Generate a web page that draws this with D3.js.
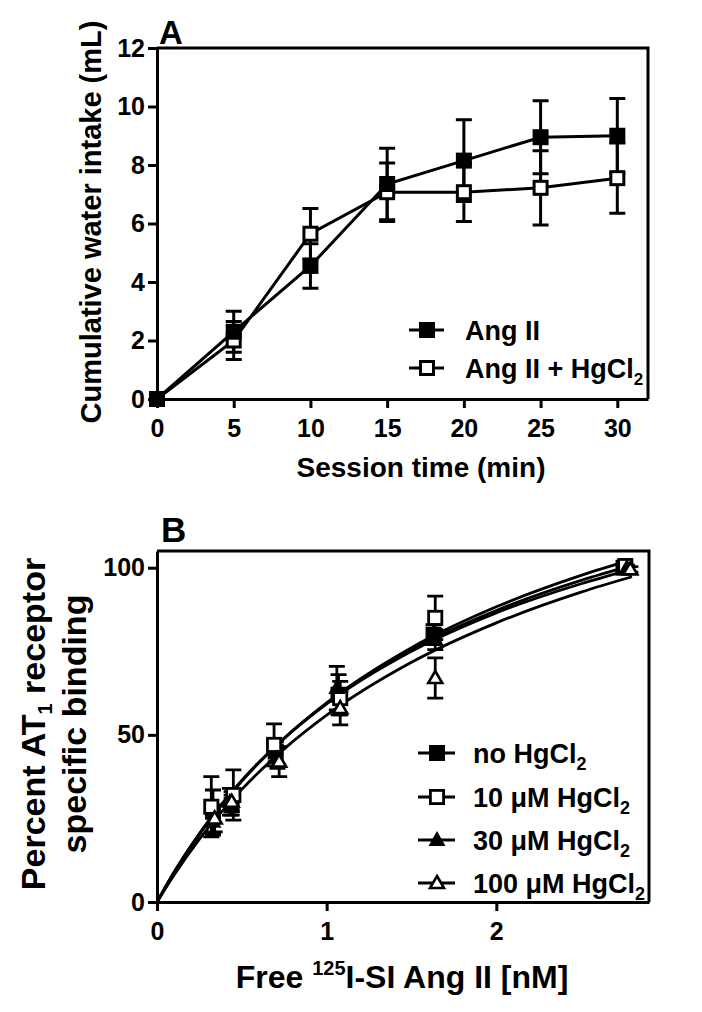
<!DOCTYPE html>
<html><head><meta charset="utf-8">
<script src="https://cdn.jsdelivr.net/npm/d3@7"></script>
<style>
body{margin:0;background:#fff}
svg{display:block}
text{font-family:"Liberation Sans",Arial,sans-serif;font-weight:bold;fill:#000}
</style>
</head><body>
<svg id="c" width="702" height="1012"></svg>
<script>
// ---------- Panel A data ----------
const timeMin = [0, 5, 10, 15, 20, 25, 30];
const angII = [0, 2.3, 4.55, 7.35, 8.15, 8.95, 9.0];
const angIIErr = [0, 0.7, 0.76, 1.22, 1.4, 1.25, 1.27];
const angIIHg = [0, 2.0, 5.65, 7.07, 7.07, 7.22, 7.55];
const angIIHgErr = [0, 0.65, 0.86, 1.0, 1.0, 1.27, 1.2];
const aXTicks = [0, 5, 10, 15, 20, 25, 30];
const aYTicks = [0, 2, 4, 6, 8, 10, 12];
const aLegend = ["Ang II", "Ang II + HgCl"];

// ---------- Panel B data ----------
const bLegend = ["no HgCl", "10 \u03BCM HgCl", "30 \u03BCM HgCl", "100 \u03BCM HgCl"];
const freeNo   = [0.33, 0.44, 0.70, 1.07, 1.63, 2.75];
const bindNo   = [27, 29, 45, 62, 80, 100];
const errNo    = [6.5, 3, 3, 6, 3, 0.8];
const free10   = [0.32, 0.45, 0.69, 1.08, 1.64, 2.76];
const bind10   = [28.5, 32, 47, 61, 85, 100.5];
const err10    = [9, 7.5, 6.3, 5, 6.5, 0.8];
const free30   = [0.33, 0.43, 0.71, 1.06, 1.64, 2.77];
const bind30   = [24, 30, 43, 64, 78.5, 100];
const err30    = [4, 4, 3, 6.5, 3, 0.8];
const free100  = [0.34, 0.44, 0.72, 1.08, 1.64, 2.79];
const bind100  = [25, 30, 42, 58, 67, 99.5];
const err100   = [4, 3, 4.5, 5, 6, 0.8];
// fitted saturation curves
const curveX     = [0, 0.1, 0.25, 0.5, 0.75, 1.0, 1.5, 2.0, 2.5, 2.8];
const curveNo    = [0, 8.8, 20.4, 36.3, 49.0, 59.4, 75.5, 87.2, 96.2, 100.7];
const curve10    = [0, 8.7, 20.2, 36.2, 49.0, 59.6, 76.1, 88.3, 97.7, 102.4];
const curve30    = [0, 8.9, 20.5, 36.4, 49.0, 59.3, 75.0, 86.5, 95.2, 99.6];
const curve100   = [0, 8.0, 18.8, 33.7, 45.8, 55.9, 71.7, 83.5, 92.7, 97.3];
const bXTicks = [0, 1, 2];
const bYTicks = [0, 50, 100];

const svg = d3.select("#c");
const FONT = '"Liberation Sans",Arial,sans-serif';

function styleAxis(g, fs) {
  g.attr("font-family", FONT).attr("font-size", fs).attr("font-weight", "bold");
  g.select(".domain").attr("stroke-width", 3).attr("stroke", "#000");
  g.selectAll(".tick line").attr("stroke-width", 3).attr("stroke", "#000");
  g.selectAll(".tick text").attr("fill", "#000");
}

// ================= Panel A =================
const xA = d3.scaleLinear().domain([0, 32]).range([157, 648]);
const yA = d3.scaleLinear().domain([0, 12]).range([399, 48]);

const gAx = svg.append("g").attr("transform", "translate(0,399)")
  .call(d3.axisBottom(xA).tickValues(aXTicks).tickSize(9).tickSizeOuter(0).tickPadding(11));
styleAxis(gAx, 25);
const gAy = svg.append("g").attr("transform", "translate(157,0)")
  .call(d3.axisLeft(yA).tickValues(aYTicks).tickSize(9).tickSizeOuter(0).tickPadding(3));
styleAxis(gAy, 25);
svg.append("path").attr("d", `M${xA(0)},${yA(12)}H${xA(32)}V${yA(0)}`)
  .attr("fill", "none").attr("stroke", "#000").attr("stroke-width", 3);

svg.append("text").attr("x", 159).attr("y", 44).attr("font-size", 33).text("A");
svg.append("text").attr("x", 421).attr("y", 477).attr("text-anchor", "middle")
  .attr("font-size", 28).text("Session time (min)");
svg.append("text").attr("transform", "translate(101,222) rotate(-90)")
  .attr("text-anchor", "middle").attr("font-size", 29).text("Cumulative water intake (mL)");

const seriesA = [
  {y: angIIHg, e: angIIHgErr, fill: "#fff"},
  {y: angII, e: angIIErr, fill: "#000"}
];
const lineA = d3.line();
seriesA.forEach(s => {
  svg.append("path")
    .attr("d", lineA(timeMin.map((t, i) => [xA(t), yA(s.y[i])])))
    .attr("fill", "none").attr("stroke", "#000").attr("stroke-width", 3);
});
seriesA.forEach(s => {
  timeMin.forEach((t, i) => {
    if (!s.e[i]) return;
    const cx = xA(t), y1 = yA(s.y[i] + s.e[i]), y2 = yA(s.y[i] - s.e[i]);
    svg.append("path").attr("d", `M${cx},${y1}V${y2}M${cx-8},${y1}H${cx+8}M${cx-8},${y2}H${cx+8}`)
      .attr("stroke", "#000").attr("stroke-width", 3).attr("fill", "none");
  });
});
function squareA(cx, cy, fill) {
  if (fill === "#000") {
    svg.append("rect").attr("x", cx - 8).attr("y", cy - 8).attr("width", 16).attr("height", 16).attr("fill", "#000");
  } else {
    svg.append("rect").attr("x", cx - 6.5).attr("y", cy - 6.5).attr("width", 13).attr("height", 13)
      .attr("fill", "#fff").attr("stroke", "#000").attr("stroke-width", 3);
  }
}
seriesA.forEach(s => {
  timeMin.forEach((t, i) => squareA(xA(t), yA(s.y[i]), s.fill));
});
// legend A
[{fill: "#000", cy: 330}, {fill: "#fff", cy: 368}].forEach((d, i) => {
  svg.append("line").attr("x1", 409).attr("x2", 444).attr("y1", d.cy).attr("y2", d.cy)
    .attr("stroke", "#000").attr("stroke-width", 3);
  squareA(427, d.cy, d.fill);
  const t = svg.append("text").attr("x", 465).attr("y", d.cy + 10).attr("font-size", 27).text(aLegend[i]);
  if (i === 1) t.append("tspan").attr("font-size", 17).attr("dy", 7).text("2");
});

// ================= Panel B =================
const xB = d3.scaleLinear().domain([0, 2.9]).range([157, 649]);
const yB = d3.scaleLinear().domain([0, 105]).range([902, 551]);

const gBx = svg.append("g").attr("transform", "translate(0,902)")
  .call(d3.axisBottom(xB).tickValues(bXTicks).tickFormat(d3.format("d")).tickSize(9).tickSizeOuter(0).tickPadding(11));
styleAxis(gBx, 25);
const gBy = svg.append("g").attr("transform", "translate(157,0)")
  .call(d3.axisLeft(yB).tickValues(bYTicks).tickFormat(d3.format("d")).tickSize(9).tickSizeOuter(0).tickPadding(3));
styleAxis(gBy, 25);
svg.append("path").attr("d", `M${xB(0)},${yB(105)}H${xB(2.9)}V${yB(0)}`)
  .attr("fill", "none").attr("stroke", "#000").attr("stroke-width", 3);

svg.append("text").attr("x", 161).attr("y", 542).attr("font-size", 35).text("B");
const xt = svg.append("text").attr("x", 402).attr("y", 988).attr("text-anchor", "middle").attr("font-size", 32);
xt.append("tspan").text("Free ");
xt.append("tspan").attr("font-size", 20).attr("dy", -13).text("125");
xt.append("tspan").attr("dy", 13).text("I-SI Ang II [nM]");

const yt1 = svg.append("text").attr("transform", "translate(45,724) rotate(-90)")
  .attr("text-anchor", "middle").attr("font-size", 34);
yt1.append("tspan").text("Percent AT");
yt1.append("tspan").attr("font-size", 20).attr("dy", 7).text("1");
yt1.append("tspan").attr("dy", -7).text(" receptor");
svg.append("text").attr("transform", "translate(86,724) rotate(-90)")
  .attr("text-anchor", "middle").attr("font-size", 34).text("specific binding");

const seriesB = [
  {x: freeNo, y: bindNo, e: errNo, c: curveNo, shape: "sq", fill: "#000"},
  {x: free10, y: bind10, e: err10, c: curve10, shape: "sq", fill: "#fff"},
  {x: free30, y: bind30, e: err30, c: curve30, shape: "tri", fill: "#000"},
  {x: free100, y: bind100, e: err100, c: curve100, shape: "tri", fill: "#fff"}
];
const lineB = d3.line().curve(d3.curveMonotoneX);
seriesB.forEach(s => {
  svg.append("path").attr("d", lineB(curveX.map((v, i) => [xB(v), yB(s.c[i])])))
    .attr("fill", "none").attr("stroke", "#000").attr("stroke-width", 2.8);
});
seriesB.forEach(s => {
  s.x.forEach((v, i) => {
    const cx = xB(v), y1 = yB(s.y[i] + s.e[i]), y2 = yB(s.y[i] - s.e[i]);
    svg.append("path").attr("d", `M${cx},${y1}V${y2}M${cx-8},${y1}H${cx+8}M${cx-8},${y2}H${cx+8}`)
      .attr("stroke", "#000").attr("stroke-width", 2.8).attr("fill", "none");
  });
});
function markerB(cx, cy, shape, fill) {
  if (shape === "sq") {
    if (fill === "#000")
      svg.append("rect").attr("x", cx - 8).attr("y", cy - 8).attr("width", 16).attr("height", 16).attr("fill", "#000");
    else
      svg.append("rect").attr("x", cx - 6.6).attr("y", cy - 6.6).attr("width", 13.2).attr("height", 13.2)
        .attr("fill", "#fff").attr("stroke", "#000").attr("stroke-width", 2.8);
  } else {
    if (fill === "#000")
      svg.append("path").attr("d", `M${cx},${cy-9}L${cx+8.5},${cy+6}L${cx-8.5},${cy+6}Z`).attr("fill", "#000");
    else
      svg.append("path").attr("d", `M${cx},${cy-7}L${cx+7},${cy+5}L${cx-7},${cy+5}Z`)
        .attr("fill", "#fff").attr("stroke", "#000").attr("stroke-width", 2.6).attr("stroke-linejoin", "miter");
  }
}
seriesB.forEach(s => {
  s.x.forEach((v, i) => markerB(xB(v), yB(s.y[i]), s.shape, s.fill));
});
// legend B
const legBY = [753, 797, 840, 883];
seriesB.forEach((s, i) => {
  const cy = legBY[i];
  svg.append("line").attr("x1", 418).attr("x2", 455).attr("y1", cy).attr("y2", cy)
    .attr("stroke", "#000").attr("stroke-width", 3);
  markerB(437, cy, s.shape, s.fill);
  const t = svg.append("text").attr("x", 473).attr("y", cy + 10).attr("font-size", 27).text(bLegend[i]);
  t.append("tspan").attr("font-size", 18).attr("dy", 7).text("2");
});
</script>
</body></html>
